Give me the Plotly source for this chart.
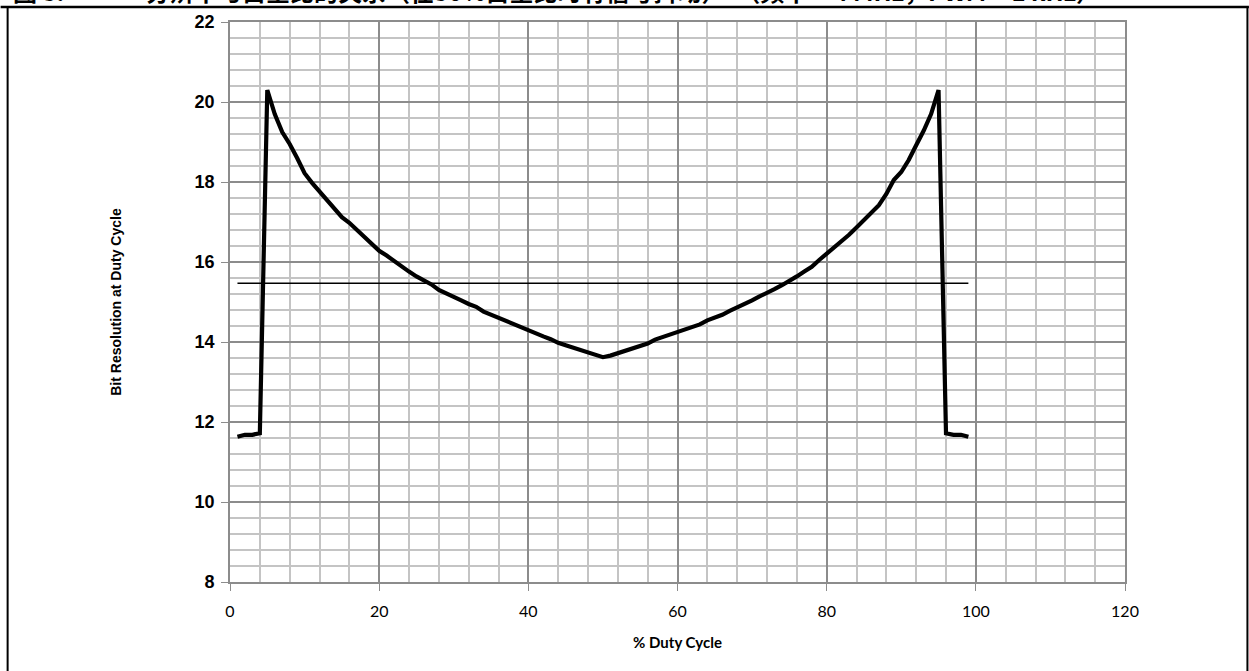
import plotly.graph_objects as go

duty_cycle = list(range(1, 100))
bit_resolution = [
    11.63, 11.68, 11.68, 11.72, 20.30, 19.70, 19.25, 18.95, 18.60, 18.22,
    17.98, 17.76, 17.54, 17.33, 17.12, 16.98, 16.80, 16.62, 16.46, 16.28,
    16.16, 16.02, 15.88, 15.76, 15.64, 15.55, 15.44, 15.30, 15.22, 15.14,
    15.04, 14.95, 14.88, 14.76, 14.68, 14.60, 14.52, 14.45, 14.38, 14.28,
    14.20, 14.14, 14.07, 13.98, 13.92, 13.86, 13.80, 13.74, 13.68, 13.62,
    13.66, 13.72, 13.78, 13.84, 13.90, 13.96, 14.06, 14.12, 14.18, 14.24,
    14.32, 14.38, 14.44, 14.54, 14.60, 14.68, 14.78, 14.86, 14.94, 15.04,
    15.14, 15.22, 15.32, 15.42, 15.52, 15.64, 15.76, 15.88, 16.05, 16.20,
    16.35, 16.52, 16.68, 16.86, 17.04, 17.22, 17.42, 17.70, 18.05, 18.25,
    18.55, 18.92, 19.28, 19.70, 20.30, 11.72, 11.68, 11.68, 11.63,
]
ref_x = [1, 99]
ref_y = [15.47, 15.47]

fig_label = "图 5:"
title_text = "分辨率与占空比的关系（在50%占空比时有信号抖动）  （频率 = 4 MHz，PWM = 1 kHz）"
x_title = "% Duty Cycle"
y_title = "Bit Resolution at Duty Cycle"

W, H = 1249, 671
L, R, T, B = 229.5, 124, 22, 89
pw, ph = W - L - R, H - T - B

def px(x):
    return (x - L) / pw

def py(y):
    return (H - B - y) / ph

fig = go.Figure()
fig.add_trace(go.Scatter(x=ref_x, y=ref_y, mode="lines",
                         line=dict(color="black", width=1.6), showlegend=False))
fig.add_trace(go.Scatter(x=duty_cycle, y=bit_resolution, mode="lines",
                         line=dict(color="black", width=4.2), showlegend=False))

fig.update_layout(
    width=W, height=H,
    margin=dict(l=L, r=R, t=T, b=B),
    paper_bgcolor="white", plot_bgcolor="white",
    showlegend=False,
    xaxis=dict(
        range=[0, 120], dtick=20, tick0=0,
        showgrid=True, gridcolor="#8c8c8c", gridwidth=1.6,
        minor=dict(dtick=4, showgrid=True, gridcolor="#c4c4c4", gridwidth=1.6),
        showline=True, linecolor="#8c8c8c", linewidth=1.6, mirror=True,
        ticks="outside", ticklen=7, tickcolor="#8c8c8c", tickwidth=1.4,
        ticklabelstandoff=7,
        zeroline=False,
        tickfont=dict(family="Lato, Open Sans, sans-serif", size=16, color="black"),
        title=dict(text="<b>" + x_title + "</b>", standoff=18,
                   font=dict(family="Lato, Open Sans, sans-serif", size=15, color="black")),
    ),
    yaxis=dict(
        range=[8, 22], dtick=2, tick0=8,
        showgrid=True, gridcolor="#8c8c8c", gridwidth=1.6,
        minor=dict(dtick=0.4, showgrid=True, gridcolor="#c4c4c4", gridwidth=1.6),
        showline=True, linecolor="#8c8c8c", linewidth=1.6, mirror=True,
        ticks="outside", ticklen=7, tickcolor="#8c8c8c", tickwidth=1.4,
        ticklabelstandoff=3,
        zeroline=False,
        tickfont=dict(family="Liberation Sans, Arial, sans-serif", size=18, color="black"),
        tickprefix="<b>", ticksuffix="</b>",
        title=dict(text="<b>" + y_title + "</b>", standoff=70,
                   font=dict(family="Liberation Sans, Arial, sans-serif", size=14, color="black")),
    ),
    shapes=[
        dict(type="line", xref="paper", yref="paper", x0=px(0), x1=px(W), y0=py(7), y1=py(7),
             line=dict(color="black", width=2.5)),
        dict(type="line", xref="paper", yref="paper", x0=px(7), x1=px(7), y0=py(7), y1=py(H + 5),
             line=dict(color="black", width=2)),
        dict(type="line", xref="paper", yref="paper", x0=px(W - 1.5), x1=px(W - 1.5), y0=py(7), y1=py(H + 5),
             line=dict(color="black", width=2)),
    ],
    annotations=[
        dict(text="<b>" + fig_label + "</b>", xref="paper", yref="paper",
             x=px(10), y=py(10), xanchor="left", yanchor="bottom", showarrow=False,
             font=dict(family="Noto Sans CJK SC, sans-serif", size=24, color="black")),
        dict(text="<b>" + title_text + "</b>", xref="paper", yref="paper",
             x=px(143), y=py(10), xanchor="left", yanchor="bottom", showarrow=False,
             font=dict(family="Noto Sans CJK SC, sans-serif", size=24, color="black")),
    ],
)

fig.write_html("out.html",
               config={"displayModeBar": False},
               post_script="document.body.style.margin='0';document.body.style.overflow='hidden';")
